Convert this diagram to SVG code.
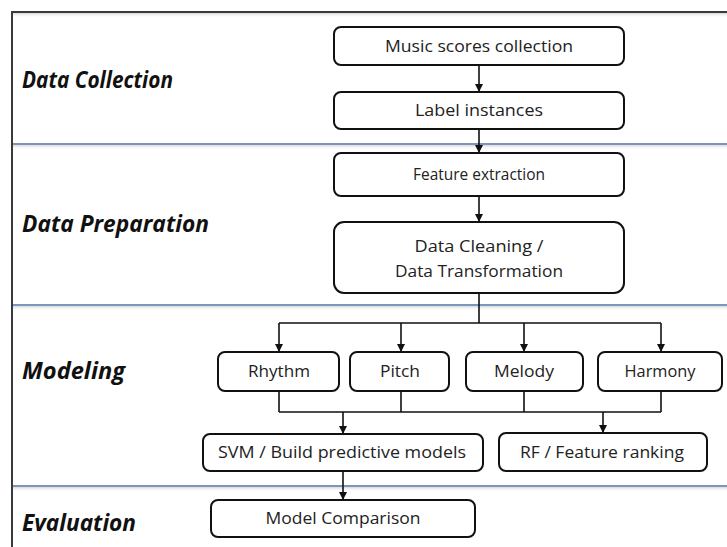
<svg xmlns="http://www.w3.org/2000/svg" width="727" height="547" viewBox="0 0 727 547">
  <defs>
    <linearGradient id="shade" x1="0" y1="0" x2="0" y2="1">
      <stop offset="0" stop-color="#d9d9d9"/>
      <stop offset="1" stop-color="#ffffff" stop-opacity="0"/>
    </linearGradient>
    <marker id="arrow" viewBox="0 0 10 10" refX="10" refY="5" markerWidth="8" markerHeight="8" markerUnits="userSpaceOnUse" orient="auto">
      <path d="M0,0 L10,5 L0,10 Z" fill="#111"/>
    </marker>
    <style>
      .frame { stroke: #3a3a3a; stroke-width: 2; fill: none; }
      .sep { stroke: #7a96bd; stroke-width: 2; }
      .box { fill: #fff; stroke: #111; stroke-width: 2; }
      .lbl { font-family: "Open Sans", "Liberation Sans", sans-serif; font-size: 17px; fill: #222; text-anchor: middle; }
      .phase { font-family: "Open Sans", "Liberation Sans", sans-serif; font-size: 23px; font-weight: bold; font-style: italic; fill: #111; }
      .wire { stroke: #111; stroke-width: 1.6; fill: none; }
    </style>
  </defs>
  <rect width="727" height="547" fill="#fff"/>

  <!-- page frame and phase separators -->
  <g id="frame">
    <rect x="12" y="13" width="715" height="5" fill="url(#shade)"/>
    <rect x="12" y="145" width="715" height="5" fill="url(#shade)"/>
    <rect x="12" y="306" width="715" height="5" fill="url(#shade)"/>
    <rect x="12" y="487" width="715" height="5" fill="url(#shade)"/>
    <line class="sep" x1="12" y1="144" x2="727" y2="144"/>
    <line class="sep" x1="12" y1="305" x2="727" y2="305"/>
    <line class="sep" x1="12" y1="486" x2="727" y2="486"/>
    <path class="frame" d="M12,547 V12 H727"/>
  </g>

  <!-- phase titles -->
  <g id="phases">
    <text class="phase" x="22" y="88" textLength="151" lengthAdjust="spacingAndGlyphs">Data Collection</text>
    <text class="phase" x="22" y="232" textLength="187" lengthAdjust="spacingAndGlyphs">Data Preparation</text>
    <text class="phase" x="22" y="379" textLength="103" lengthAdjust="spacingAndGlyphs">Modeling</text>
    <text class="phase" x="22" y="531" textLength="114" lengthAdjust="spacingAndGlyphs">Evaluation</text>
  </g>

  <!-- connectors -->
  <g id="connectors">
    <line class="wire" x1="479" y1="65" x2="479" y2="92" marker-end="url(#arrow)"/>
    <line class="wire" x1="479" y1="129" x2="479" y2="153" marker-end="url(#arrow)"/>
    <line class="wire" x1="479" y1="196" x2="479" y2="222" marker-end="url(#arrow)"/>
    <path class="wire" d="M479,293 V323 M279,323 H661"/>
    <line class="wire" x1="279" y1="323" x2="279" y2="352" marker-end="url(#arrow)"/>
    <line class="wire" x1="401" y1="323" x2="401" y2="352" marker-end="url(#arrow)"/>
    <line class="wire" x1="524" y1="323" x2="524" y2="352" marker-end="url(#arrow)"/>
    <line class="wire" x1="661" y1="323" x2="661" y2="352" marker-end="url(#arrow)"/>
    <path class="wire" d="M279,391 V412 M401,391 V412 M524,391 V412 M661,391 V412 M279,412 H661"/>
    <line class="wire" x1="343" y1="412" x2="343" y2="434" marker-end="url(#arrow)"/>
    <line class="wire" x1="603" y1="412" x2="603" y2="433" marker-end="url(#arrow)"/>
    <line class="wire" x1="343" y1="471" x2="343" y2="500" marker-end="url(#arrow)"/>
  </g>

  <!-- process steps -->
  <g id="music-scores">
    <rect class="box" x="334" y="27" width="290" height="38" rx="7"/>
    <text class="lbl" x="479" y="52" textLength="188" lengthAdjust="spacingAndGlyphs">Music scores collection</text>
  </g>
  <g id="label-instances">
    <rect class="box" x="334" y="92" width="290" height="37" rx="7"/>
    <text class="lbl" x="479" y="116" textLength="128" lengthAdjust="spacingAndGlyphs">Label instances</text>
  </g>
  <g id="feature-extraction">
    <rect class="box" x="334" y="153" width="290" height="43" rx="7"/>
    <text class="lbl" x="479" y="180" textLength="132" lengthAdjust="spacingAndGlyphs">Feature extraction</text>
  </g>
  <g id="cleaning">
    <rect class="box" x="334" y="222" width="290" height="71" rx="10"/>
    <text class="lbl" x="479" y="252" textLength="129" lengthAdjust="spacingAndGlyphs">Data Cleaning /</text>
    <text class="lbl" x="479" y="277" textLength="168" lengthAdjust="spacingAndGlyphs">Data Transformation</text>
  </g>
  <g id="rhythm">
    <rect class="box" x="218" y="352" width="121" height="39" rx="7"/>
    <text class="lbl" x="279" y="377" textLength="62" lengthAdjust="spacingAndGlyphs">Rhythm</text>
  </g>
  <g id="pitch">
    <rect class="box" x="350" y="352" width="99" height="39" rx="7"/>
    <text class="lbl" x="400" y="377" textLength="40" lengthAdjust="spacingAndGlyphs">Pitch</text>
  </g>
  <g id="melody">
    <rect class="box" x="466" y="352" width="117" height="39" rx="7"/>
    <text class="lbl" x="524" y="377" textLength="60" lengthAdjust="spacingAndGlyphs">Melody</text>
  </g>
  <g id="harmony">
    <rect class="box" x="598" y="352" width="124" height="39" rx="7"/>
    <text class="lbl" x="660" y="377" textLength="71" lengthAdjust="spacingAndGlyphs">Harmony</text>
  </g>
  <g id="svm">
    <rect class="box" x="203" y="434" width="280" height="37" rx="7"/>
    <text class="lbl" x="342" y="458" textLength="248" lengthAdjust="spacingAndGlyphs">SVM / Build predictive models</text>
  </g>
  <g id="rf">
    <rect class="box" x="499" y="433" width="208" height="38" rx="7"/>
    <text class="lbl" x="602" y="458" textLength="164" lengthAdjust="spacingAndGlyphs">RF / Feature ranking</text>
  </g>
  <g id="comparison">
    <rect class="box" x="211" y="500" width="264" height="37" rx="7"/>
    <text class="lbl" x="343" y="524" textLength="155" lengthAdjust="spacingAndGlyphs">Model Comparison</text>
  </g>
</svg>
